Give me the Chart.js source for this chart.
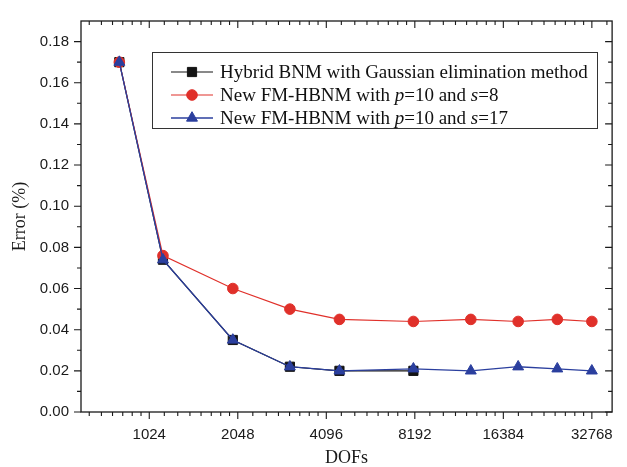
<!DOCTYPE html>
<html>
<head>
<meta charset="utf-8">
<script src="https://cdn.jsdelivr.net/npm/chart.js@4.4.1/dist/chart.umd.min.js"></script>
<style>
  html, body { margin: 0; padding: 0; background: #fff; }
</style>
</head>
<body>
<canvas id="errChart" width="627" height="467"></canvas>
<script>
// degrees of freedom for each run
const dofs = [810, 1140, 1970, 3080, 4540, 8100, 12700, 18400, 25000, 32768];

// error (%) per method
const errGauss = [0.170, 0.074, 0.035, 0.022, 0.020, 0.020];
const errS8 = [0.170, 0.076, 0.060, 0.050, 0.045, 0.044, 0.045, 0.044, 0.045, 0.044];
const errS17 = [0.170, 0.074, 0.035, 0.022, 0.020, 0.021, 0.020, 0.022, 0.021, 0.020];

// axis ticks: x as powers of two, y in percent
const xTickExp = [10, 11, 12, 13, 14, 15];
const yTicks = [0, 0.02, 0.04, 0.06, 0.08, 0.10, 0.12, 0.14, 0.16, 0.18];
const yMinorTicks = [0.01, 0.03, 0.05, 0.07, 0.09, 0.11, 0.13, 0.15, 0.17];

const legendRows = [
  [{ t: "Hybrid BNM with Gaussian elimination method" }],
  [{ t: "New FM-HBNM with " }, { t: "p", i: true }, { t: "=10 and " }, { t: "s", i: true }, { t: "=8" }],
  [{ t: "New FM-HBNM with " }, { t: "p", i: true }, { t: "=10 and " }, { t: "s", i: true }, { t: "=17" }]
];

const BLACK = "#141414", RED = "#e0302a", BLUE = "#2b3f9e";
const SERIF = "'Liberation Serif', 'Times New Roman', serif";
const SANS = "'Liberation Sans', Arial, sans-serif";

const toPoints = (arr) => arr.map((v, i) => ({ x: Math.log2(dofs[i]), y: v }));

// minor ticks on the log2 axis: 2^n * (1 + k/8)
const xMinorTicks = [];
for (let n = 9; n <= 15; n++) {
  for (let k = 1; k < 8; k++) xMinorTicks.push(n + Math.log2(1 + k / 8));
}

const frameTicks = {
  id: "frameTicks",
  beforeDatasetsDraw(chart) {
    const { ctx, chartArea: a, scales: { x, y } } = chart;
    ctx.save();
    ctx.strokeStyle = "#1a1a1a";
    ctx.lineWidth = 1.3;
    ctx.strokeRect(a.left, a.top, a.right - a.left, a.bottom - a.top);
    ctx.lineWidth = 1.1;
    ctx.beginPath();
    const xt = (v, len) => {
      if (v < x.min || v > x.max) return;
      const px = x.getPixelForValue(v);
      ctx.moveTo(px, a.bottom); ctx.lineTo(px, a.bottom + len);
      ctx.moveTo(px, a.top); ctx.lineTo(px, a.top + len);
    };
    const yt = (v, len) => {
      const py = y.getPixelForValue(v);
      ctx.moveTo(a.left, py); ctx.lineTo(a.left - len, py);
      ctx.moveTo(a.right, py); ctx.lineTo(a.right - len, py);
    };
    xTickExp.forEach(v => xt(v, 7));
    xMinorTicks.forEach(v => xt(v, 4));
    yTicks.forEach(v => yt(v, 7));
    yMinorTicks.forEach(v => yt(v, 4));
    ctx.stroke();
    ctx.restore();
  },
  afterDatasetsDraw(chart) {
    const ctx = chart.ctx;
    const box = { left: 152, top: 52, right: 597, bottom: 128 };
    ctx.save();
    ctx.fillStyle = "#fff";
    ctx.fillRect(box.left, box.top, box.right - box.left, box.bottom - box.top);
    ctx.strokeStyle = "#333";
    ctx.lineWidth = 1;
    ctx.strokeRect(box.left + 0.5, box.top + 0.5, box.right - box.left, box.bottom - box.top);

    chart.data.datasets.forEach((ds, i) => {
      const cy = 72 + i * 23;
      ctx.strokeStyle = ds.borderColor;
      ctx.lineWidth = ds.borderWidth;
      ctx.beginPath();
      ctx.moveTo(171, cy); ctx.lineTo(213, cy);
      ctx.stroke();
      ctx.fillStyle = ds.pointBackgroundColor;
      ctx.strokeStyle = ds.pointBorderColor;
      ctx.lineWidth = 1;
      Chart.helpers.drawPoint(ctx, { pointStyle: ds.pointStyle, radius: ds.pointRadius, rotation: 0, borderWidth: 1 }, 192, cy);

      let tx = 220;
      ctx.fillStyle = "#111";
      ctx.textBaseline = "middle";
      legendRows[i].forEach(seg => {
        ctx.font = (seg.i ? "italic " : "") + "19px " + SERIF;
        ctx.fillText(seg.t, tx, cy + 1);
        tx += ctx.measureText(seg.t).width;
      });
    });
    ctx.restore();
  }
};

new Chart(document.getElementById("errChart"), {
  type: "line",
  data: {
    datasets: [
      {
        label: "Hybrid BNM with Gaussian elimination method",
        data: toPoints(errGauss),
        borderColor: BLACK, borderWidth: 1.2,
        pointStyle: "rect", pointRadius: 6.5,
        pointBackgroundColor: BLACK, pointBorderColor: BLACK, pointBorderWidth: 1,
        order: 2
      },
      {
        label: "New FM-HBNM with p=10 and s=8",
        data: toPoints(errS8),
        borderColor: RED, borderWidth: 1.1,
        pointStyle: "circle", pointRadius: 5.3,
        pointBackgroundColor: RED, pointBorderColor: RED, pointBorderWidth: 1,
        order: 1
      },
      {
        label: "New FM-HBNM with p=10 and s=17",
        data: toPoints(errS17),
        borderColor: BLUE, borderWidth: 1.3,
        pointStyle: "triangle", pointRadius: 6.3,
        pointBackgroundColor: BLUE, pointBorderColor: BLUE, pointBorderWidth: 1,
        order: 0
      }
    ]
  },
  options: {
    responsive: false,
    animation: false,
    layout: { padding: { top: 12, right: 2, left: 0, bottom: 0 } },
    plugins: { legend: { display: false }, tooltip: { enabled: false } },
    scales: {
      x: {
        type: "linear",
        min: Math.log2(600),
        max: Math.log2(38400),
        grid: { display: false, drawTicks: false },
        border: { display: false },
        afterFit: s => { s.height = 55; },
        afterBuildTicks: s => { s.ticks = xTickExp.map(v => ({ value: v })); },
        ticks: {
          padding: 14,
          color: "#1a1a1a",
          font: { family: SANS, size: 15 },
          callback: v => String(2 ** v)
        },
        title: {
          display: true, text: "DOFs", color: "#1a1a1a",
          font: { family: SERIF, size: 18, lineHeight: 1 },
          padding: { top: 0, bottom: 0 }
        }
      },
      y: {
        min: 0,
        max: 0.19,
        grid: { display: false, drawTicks: false },
        border: { display: false },
        afterFit: s => { s.width = 81; },
        afterBuildTicks: s => { s.ticks = yTicks.map(v => ({ value: v })); },
        ticks: {
          padding: 12,
          color: "#1a1a1a",
          font: { family: SANS, size: 15 },
          callback: v => v.toFixed(2)
        },
        title: {
          display: true, text: "Error (%)", color: "#1a1a1a",
          font: { family: SERIF, size: 18, lineHeight: 1 },
          padding: { top: 11, bottom: 0 }
        }
      }
    }
  },
  plugins: [frameTicks]
});
</script>
</body>
</html>
